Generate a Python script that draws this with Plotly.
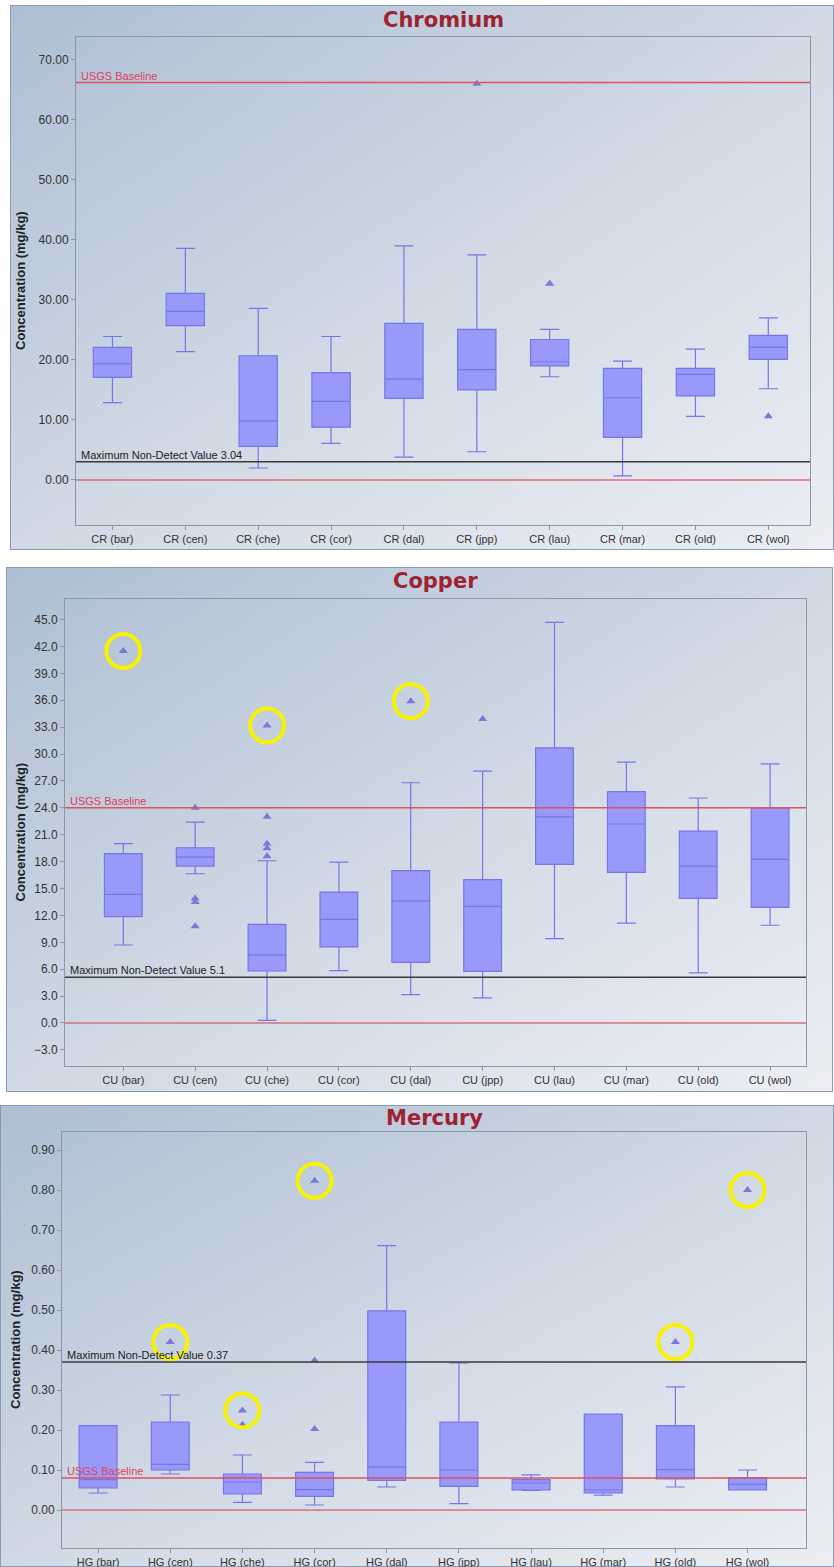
import base64
import plotly.graph_objects as go

W, H = 834, 1567

# ---------------- Chromium ----------------
cr_cats = ["CR (bar)", "CR (cen)", "CR (che)", "CR (cor)", "CR (dal)",
           "CR (jpp)", "CR (lau)", "CR (mar)", "CR (old)", "CR (wol)"]
cr_low = [12.9, 21.4, 2.0, 6.1, 3.8, 4.7, 17.2, 0.7, 10.6, 15.2]
cr_q1 = [17.1, 25.7, 5.6, 8.8, 13.6, 15.0, 19.0, 7.1, 14.0, 20.1]
cr_med = [19.4, 28.1, 9.8, 13.1, 16.8, 18.4, 19.7, 13.7, 17.6, 22.1]
cr_q3 = [22.1, 31.1, 20.7, 17.9, 26.1, 25.1, 23.4, 18.6, 18.6, 24.1]
cr_high = [23.9, 38.6, 28.6, 23.9, 39.0, 37.5, 25.1, 19.8, 21.8, 27.0]
cr_out_cat = ["CR (jpp)", "CR (lau)", "CR (wol)"]
cr_out_val = [66.0, 32.7, 10.6]
cr_usgs = 66.2
cr_nd = 3.04

# ---------------- Copper ----------------
cu_cats = ["CU (bar)", "CU (cen)", "CU (che)", "CU (cor)", "CU (dal)",
           "CU (jpp)", "CU (lau)", "CU (mar)", "CU (old)", "CU (wol)"]
cu_low = [8.7, 16.65, 0.3, 5.85, 3.16, 2.8, 9.4, 11.15, 5.6, 10.9]
cu_q1 = [11.86, 17.5, 5.8, 8.5, 6.77, 5.76, 17.7, 16.8, 13.9, 12.9]
cu_med = [14.35, 18.5, 7.6, 11.55, 13.6, 13.0, 23.0, 22.2, 17.5, 18.25]
cu_q3 = [18.9, 19.55, 11.0, 14.6, 17.0, 16.0, 30.7, 25.8, 21.4, 24.0]
cu_high = [20.0, 22.4, 18.1, 17.95, 26.8, 28.1, 44.7, 29.1, 25.1, 28.9]
cu_out_cat = ["CU (bar)", "CU (cen)", "CU (cen)", "CU (cen)", "CU (cen)",
              "CU (che)", "CU (che)", "CU (che)", "CU (che)", "CU (che)",
              "CU (dal)", "CU (jpp)"]
cu_out_val = [41.5, 24.0, 13.9, 13.5, 10.8,
              33.2, 23.0, 20.0, 19.5, 18.6,
              35.9, 33.9]
cu_mark_cat = ["CU (bar)", "CU (che)", "CU (dal)"]
cu_mark_val = [41.5, 33.2, 35.9]
cu_usgs = 24.0
cu_nd = 5.1

# ---------------- Mercury ----------------
hg_cats = ["HG (bar)", "HG (cen)", "HG (che)", "HG (cor)", "HG (dal)",
           "HG (jpp)", "HG (lau)", "HG (mar)", "HG (old)", "HG (wol)"]
hg_low = [0.0425, 0.09, 0.019, 0.0125, 0.0575, 0.016, 0.049, 0.037, 0.0575, 0.05]
hg_q1 = [0.055, 0.10, 0.04, 0.034, 0.074, 0.059, 0.05, 0.043, 0.0775, 0.05]
hg_med = [0.076, 0.114, 0.07, 0.051, 0.107, 0.10, 0.0675, 0.05, 0.101, 0.064]
hg_q3 = [0.211, 0.22, 0.09, 0.094, 0.498, 0.22, 0.076, 0.24, 0.211, 0.081]
hg_high = [0.211, 0.2875, 0.1375, 0.119, 0.661, 0.3675, 0.088, 0.24, 0.308, 0.10]
hg_out_cat = ["HG (cen)", "HG (che)", "HG (che)", "HG (cor)", "HG (cor)",
              "HG (cor)", "HG (old)", "HG (wol)"]
hg_out_val = [0.42, 0.249, 0.213, 0.823, 0.374, 0.2025, 0.42, 0.80]
hg_mark_cat = ["HG (cen)", "HG (che)", "HG (cor)", "HG (old)", "HG (wol)"]
hg_mark_val = [0.42, 0.249, 0.823, 0.42, 0.80]
hg_usgs = 0.08
hg_nd = 0.37

# ---------------- styling ----------------
BOX_FILL = "rgb(153,153,250)"
BOX_LINE = "rgb(118,118,232)"
OUT_COL = "rgb(122,122,214)"
RING_COL = "#f8f200"
TITLE_COL = "#9e2332"
AXIS_COL = "#8c98a8"
TICK_FONT = dict(family="Liberation Sans, Arial, sans-serif", size=11, color="#333333")
YTICK_FONT = dict(family="Liberation Sans, Arial, sans-serif", size=12, color="#333333")

panels = [
    dict(name="Chromium", cats=cr_cats, low=cr_low, q1=cr_q1, med=cr_med, q3=cr_q3,
         high=cr_high, oc=cr_out_cat, ov=cr_out_val, mc=[], mv=[],
         usgs=cr_usgs, nd=cr_nd, nd_txt="Maximum Non-Detect Value 3.04",
         plot=(76, 810, 37, 525), yr=[-7.5, 73.8], dtick=10, fmt=".2f",
         title_y=20, ytitle_x=20),
    dict(name="Copper", cats=cu_cats, low=cu_low, q1=cu_q1, med=cu_med, q3=cu_q3,
         high=cu_high, oc=cu_out_cat, ov=cu_out_val, mc=cu_mark_cat, mv=cu_mark_val,
         usgs=cu_usgs, nd=cu_nd, nd_txt="Maximum Non-Detect Value 5.1",
         plot=(65, 806, 599, 1066), yr=[-4.8, 47.3], dtick=3, fmt=".1f",
         title_y=581, ytitle_x=20),
    dict(name="Mercury", cats=hg_cats, low=hg_low, q1=hg_q1, med=hg_med, q3=hg_q3,
         high=hg_high, oc=hg_out_cat, ov=hg_out_val, mc=hg_mark_cat, mv=hg_mark_val,
         usgs=hg_usgs, nd=hg_nd, nd_txt="Maximum Non-Detect Value 0.37",
         plot=(62, 806, 1132, 1548), yr=[-0.095, 0.945], dtick=0.1, fmt=".2f",
         title_y=1118, ytitle_x=15),
]

# panel frames (pixel rectangles) with a diagonal blue-grey gradient
frames = [(10.5, 5.5, 823, 544), (6.5, 567.5, 826, 524), (0.5, 1105.5, 833, 461)]
svg_rects = "".join(
    f'<rect x="{x}" y="{y}" width="{w}" height="{h}" fill="url(#g)" stroke="#8a9ab0" stroke-width="1"/>'
    for x, y, w, h in frames)
svg = (f'<svg xmlns="http://www.w3.org/2000/svg" width="{W}" height="{H}" '
       f'viewBox="0 0 {W} {H}" preserveAspectRatio="none"><defs>'
       '<linearGradient id="g" x1="0" y1="0" x2="1" y2="1">'
       '<stop offset="0" stop-color="#aebfd4"/>'
       '<stop offset="0.55" stop-color="#d3dbe6"/>'
       '<stop offset="1" stop-color="#eceef3"/>'
       '</linearGradient></defs>' + svg_rects + '</svg>')
bg_src = "data:image/svg+xml;base64," + base64.b64encode(svg.encode()).decode()

fig = go.Figure()
layout = dict(
    width=W, height=H, margin=dict(l=0, r=0, t=0, b=0),
    paper_bgcolor="white", plot_bgcolor="rgba(0,0,0,0)",
    showlegend=False, boxgap=0.25,
    images=[dict(source=bg_src, xref="paper", yref="paper", x=0, y=1,
                 sizex=1, sizey=1, xanchor="left", yanchor="top",
                 sizing="stretch", layer="below")],
    shapes=[], annotations=[],
)


def px_x(v):
    return v / W


def px_y(v):
    return 1 - v / H


for i, p in enumerate(panels, start=1):
    xa = "x" if i == 1 else f"x{i}"
    ya = "y" if i == 1 else f"y{i}"
    l, r, t, b = p["plot"]

    fig.add_trace(go.Box(
        x=p["cats"], q1=p["q1"], median=p["med"], q3=p["q3"],
        lowerfence=p["low"], upperfence=p["high"],
        fillcolor=BOX_FILL, line=dict(color=BOX_LINE, width=1.2),
        whiskerwidth=0.5, boxpoints=False, xaxis=xa, yaxis=ya,
        hoverinfo="skip"))
    fig.add_trace(go.Scatter(
        x=p["oc"], y=p["ov"], mode="markers", xaxis=xa, yaxis=ya,
        marker=dict(symbol="triangle-up", size=8, color=OUT_COL),
        hoverinfo="skip"))
    if p["mc"]:
        fig.add_trace(go.Scatter(
            x=p["mc"], y=p["mv"], mode="markers", xaxis=xa, yaxis=ya,
            marker=dict(symbol="circle-open", size=34, color=RING_COL,
                        line=dict(width=4, color=RING_COL)),
            hoverinfo="skip"))

    axis_common = dict(showline=True, mirror=True, linecolor=AXIS_COL, linewidth=1,
                       ticks="outside", ticklen=4, tickcolor=AXIS_COL,
                       showgrid=False, zeroline=False, fixedrange=True)
    layout["xaxis" if i == 1 else f"xaxis{i}"] = dict(
        domain=[px_x(l), px_x(r)], anchor=ya, type="category",
        categoryorder="array", categoryarray=p["cats"],
        tickfont=TICK_FONT, **axis_common)
    layout["yaxis" if i == 1 else f"yaxis{i}"] = dict(
        domain=[px_y(b), px_y(t)], anchor=xa, range=p["yr"],
        dtick=p["dtick"], tick0=0, tickformat=p["fmt"],
        tickfont=YTICK_FONT, **axis_common)

    xd = f"{xa} domain"
    # zero line, USGS baseline, maximum non-detect value
    layout["shapes"].append(dict(type="line", xref=xd, yref=ya, x0=0, x1=1,
                                 y0=0, y1=0, line=dict(color="#d9707a", width=1.5)))
    layout["shapes"].append(dict(type="line", xref=xd, yref=ya, x0=0, x1=1,
                                 y0=p["usgs"], y1=p["usgs"],
                                 line=dict(color="#e0505e", width=1.5)))
    layout["shapes"].append(dict(type="line", xref=xd, yref=ya, x0=0, x1=1,
                                 y0=p["nd"], y1=p["nd"],
                                 line=dict(color="#3a3a3a", width=1.5)))
    layout["annotations"].append(dict(
        text="USGS Baseline", xref=xd, yref=ya, x=0.004, y=p["usgs"],
        xanchor="left", yanchor="bottom", yshift=-1, showarrow=False,
        font=dict(family="Liberation Sans, Arial, sans-serif", size=11, color="#e0405a")))
    layout["annotations"].append(dict(
        text=p["nd_txt"], xref=xd, yref=ya, x=0.004, y=p["nd"],
        xanchor="left", yanchor="bottom", yshift=-1, showarrow=False,
        font=dict(family="Liberation Sans, Arial, sans-serif", size=11, color="#222222")))

    # panel title and y-axis title
    layout["annotations"].append(dict(
        text=f"<b>{p['name']}</b>", xref="paper", yref="paper",
        x=px_x((l + r) / 2), y=px_y(p["title_y"]), xanchor="center", yanchor="middle",
        showarrow=False,
        font=dict(family="DejaVu Sans, Verdana, sans-serif", size=21, color=TITLE_COL)))
    layout["annotations"].append(dict(
        text="<b>Concentration (mg/kg)</b>", xref="paper", yref="paper",
        x=px_x(p["ytitle_x"]), y=px_y((t + b) / 2), xanchor="center", yanchor="middle",
        textangle=-90, showarrow=False,
        font=dict(family="Liberation Sans, Arial, sans-serif", size=13, color="#222222")))

fig.update_layout(**layout)
fig.write_html("out.html")
